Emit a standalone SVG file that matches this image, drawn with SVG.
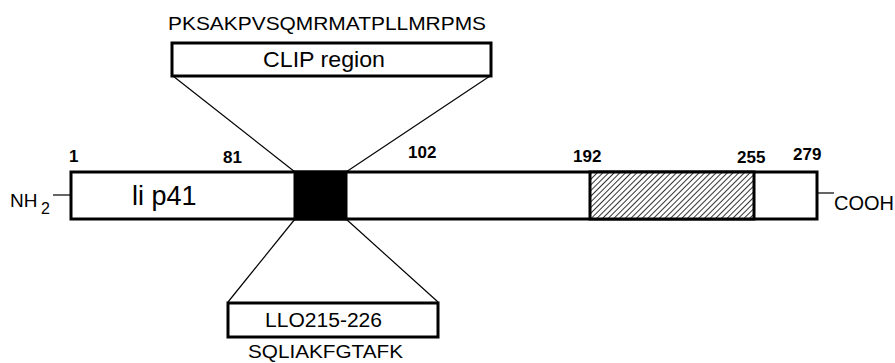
<svg xmlns="http://www.w3.org/2000/svg" width="895" height="363" viewBox="0 0 895 363">
<style>
text{font-family:"Liberation Sans",Arial,sans-serif;fill:#000}
.num{font-weight:bold;font-size:17px}
.box{fill:#fff;stroke:#000;stroke-width:3}
.ln{stroke:#000;stroke-width:1.2;fill:none}
</style>
<defs>
<pattern id="hatch" patternUnits="userSpaceOnUse" width="4" height="4" patternTransform="rotate(45)">
<rect width="4" height="4" fill="#fff"/>
<line x1="0" y1="0" x2="0" y2="4" stroke="#000" stroke-width="1.6"/>
</pattern>
</defs>
<rect width="895" height="363" fill="#fff"/>
<g id="connectors">
<line class="ln" x1="173" y1="76" x2="295" y2="172"/>
<line class="ln" x1="490" y1="76" x2="346" y2="172"/>
<line class="ln" x1="295" y1="219" x2="228" y2="302"/>
<line class="ln" x1="346" y1="219" x2="438" y2="302"/>
<line class="ln" x1="53" y1="195" x2="71" y2="195"/>
<line class="ln" x1="817" y1="193" x2="834" y2="193"/>
</g>
<g id="protein">
<rect class="box" x="71" y="172" width="746" height="47"/>
<rect x="590" y="172" width="164" height="47" fill="url(#hatch)" stroke="#000" stroke-width="3"/>
<rect x="295" y="172" width="51" height="47" fill="#000" stroke="#000" stroke-width="3"/>
<text x="132" y="205" font-size="27">li p41</text>
<text x="10" y="207" font-size="19">NH</text>
<text x="41" y="214" font-size="16">2</text>
<text x="834" y="210" font-size="20">COOH</text>
</g>
<g id="labels">
<text class="num" x="69" y="162">1</text>
<text class="num" x="223" y="163">81</text>
<text class="num" x="408" y="158">102</text>
<text class="num" x="573" y="162">192</text>
<text class="num" x="737" y="163">255</text>
<text class="num" x="793" y="160">279</text>
</g>
<g id="clip">
<text x="168" y="30" font-size="19" textLength="318" lengthAdjust="spacingAndGlyphs">PKSAKPVSQMRMATPLLMRPMS</text>
<rect class="box" x="172" y="43" width="319" height="33"/>
<text x="263" y="67" font-size="22.5" textLength="122" lengthAdjust="spacingAndGlyphs">CLIP region</text>
</g>
<g id="llo">
<rect class="box" x="228" y="303" width="210" height="34"/>
<text x="265" y="327" font-size="20" textLength="117" lengthAdjust="spacingAndGlyphs">LLO215-226</text>
<text x="248" y="358" font-size="19" textLength="155" lengthAdjust="spacingAndGlyphs">SQLIAKFGTAFK</text>
</g>
</svg>
